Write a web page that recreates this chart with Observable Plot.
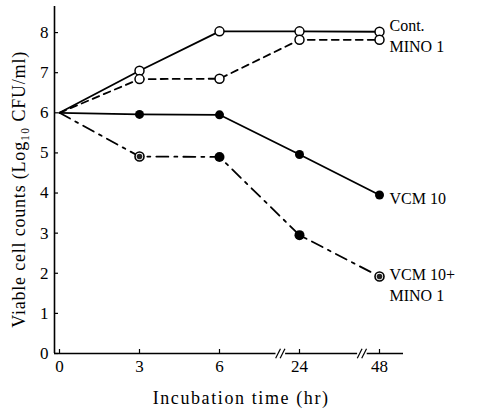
<!DOCTYPE html>
<html>
<head>
<meta charset="utf-8">
<script src="https://cdn.jsdelivr.net/npm/d3@7"></script>
<script src="https://cdn.jsdelivr.net/npm/@observablehq/plot@0.6"></script>
<style>
  html, body { margin: 0; padding: 0; background: #fff; }
  svg { display: block; }
</style>
</head>
<body>
<div id="chart"></div>
<script>
const times = ["0", "3", "6", "24", "48"];
const contValues = [6, 7.05, 8.03, 8.03, 8.02];
const minoValues = [6, 6.84, 6.85, 7.82, 7.82];
const vcmValues = [6, 5.96, 5.95, 4.96, 3.95];
const comboValues = [6, 4.91, 4.9, 2.95, 1.92];
const comboMarkers = ["none", "ring", "filled", "filled", "ring"];
const seriesNames = ["Cont.", "MINO 1", "VCM 10", "VCM 10+\nMINO 1"];
const yTicks = [0, 1, 2, 3, 4, 5, 6, 7, 8];
const axisBreaks = [2.76, 3.78];
const xTitle = "Incubation time (hr)";
const yTitle = "Viable cell counts (Log₁₀ CFU/ml)";

const xMin = -0.0625, xMax = 4.3, yMax = 8.65;

const mk = (vals) => vals.map((v, i) => ({i, v}));
const cont = mk(contValues), mino = mk(minoValues), vcm = mk(vcmValues), combo = mk(comboValues);
const sub = (arr) => arr.filter(d => d.i > 0);
const comboRing = combo.filter(d => comboMarkers[d.i] === "ring");
const comboFilled = combo.filter(d => comboMarkers[d.i] === "filled");

const font = "'Liberation Serif', 'DejaVu Serif', 'Times New Roman', serif";
const labelSpecs = [
  {v: contValues[4], t: seriesNames[0], dy: -8},
  {v: minoValues[4], t: seriesNames[1], dy: 5},
  {v: vcmValues[4], t: seriesNames[2], dy: 2},
  {v: comboValues[4], t: seriesNames[3], dy: 7}
];
const breakLines = axisBreaks.flatMap(b => [-0.028, 0.028].map(o => ({b: b + o})));

const chart = Plot.plot({
  width: 480,
  height: 412,
  marginLeft: 54,
  marginRight: 480 - 403,
  marginTop: 6,
  marginBottom: 59,
  style: {fontFamily: font, background: "#fff"},
  x: {type: "linear", domain: [xMin, xMax], axis: null},
  y: {type: "linear", domain: [0, yMax], axis: null},
  marks: [
    // axes
    Plot.ruleY([0], {x1: xMin, x2: xMax, stroke: "#000", strokeWidth: 1.6}),
    Plot.ruleX([xMin], {y1: 0, y2: yMax, stroke: "#000", strokeWidth: 1.6}),
    Plot.ruleX(times.map((t, i) => i), {x: d => d, y1: 0, y2: 0.1, stroke: "#000", strokeWidth: 1.2}),
    Plot.ruleY(yTicks, {y: d => d, x1: xMin, x2: xMin + 0.05, stroke: "#000", strokeWidth: 1.2}),
    Plot.text(times.map((t, i) => ({i, t})), {x: "i", y: 0, text: "t", dy: 13, fontSize: 17, fontFamily: font, fill: "#000"}),
    Plot.text(yTicks, {x: xMin, y: d => d, text: d => String(d), dx: -6, textAnchor: "end", fontSize: 17, fontFamily: font, fill: "#000"}),
    // axis breaks
    Plot.link(axisBreaks.map(b => ({b})), {x1: d => d.b - 0.06, x2: d => d.b + 0.06, y1: 0, y2: 0, stroke: "#fff", strokeWidth: 3}),
    Plot.link(breakLines, {x1: d => d.b - 0.03, y1: -0.12, x2: d => d.b + 0.03, y2: 0.12, stroke: "#000", strokeWidth: 1.2}),
    // series lines
    Plot.line(cont, {x: "i", y: "v", stroke: "#000", strokeWidth: 1.8}),
    Plot.line(mino, {x: "i", y: "v", stroke: "#000", strokeWidth: 1.8, strokeDasharray: "7,5"}),
    Plot.line(vcm, {x: "i", y: "v", stroke: "#000", strokeWidth: 1.8}),
    Plot.line(combo, {x: "i", y: "v", stroke: "#000", strokeWidth: 1.8, strokeDasharray: "12,6,3,6"}),
    // markers
    Plot.dot(sub(cont), {x: "i", y: "v", r: 4.5, fill: "#fff", stroke: "#000", strokeWidth: 1.5}),
    Plot.dot(sub(mino), {x: "i", y: "v", r: 4.5, fill: "#fff", stroke: "#000", strokeWidth: 1.5}),
    Plot.dot(sub(vcm), {x: "i", y: "v", r: 4.5, fill: "#000", stroke: "none"}),
    Plot.dot(comboFilled, {x: "i", y: "v", r: 5, fill: "#000", stroke: "none"}),
    Plot.dot(comboRing, {x: "i", y: "v", r: 4.5, fill: "#fff", stroke: "#000", strokeWidth: 1.6}),
    Plot.dot(comboRing, {x: "i", y: "v", r: 2.8, fill: "#222", stroke: "none"}),
    // series labels
    ...labelSpecs.map(s => Plot.text([{i: 4, v: s.v, t: s.t}], {x: "i", y: "v", text: "t", dx: 10, dy: s.dy, textAnchor: "start", fontSize: 16, lineHeight: 1.35, fontFamily: font, fill: "#000"})),
    // axis titles
    Plot.text([{t: xTitle}], {x: 2.27, y: 0, text: "t", dy: 45, fontSize: 18, fontFamily: font, fill: "#000"}),
    Plot.text([{t: yTitle}], {x: xMin, y: 4.09, text: "t", dx: -35, rotate: -90, fontSize: 18, fontFamily: font, fill: "#000"})
  ]
});
const spacing = new Map([[xTitle, "1.6px"], [yTitle, "0.8px"]]);
chart.querySelectorAll("text").forEach(el => {
  const s = spacing.get(el.textContent);
  if (s) el.setAttribute("letter-spacing", s);
});
document.getElementById("chart").appendChild(chart);
</script>
</body>
</html>
